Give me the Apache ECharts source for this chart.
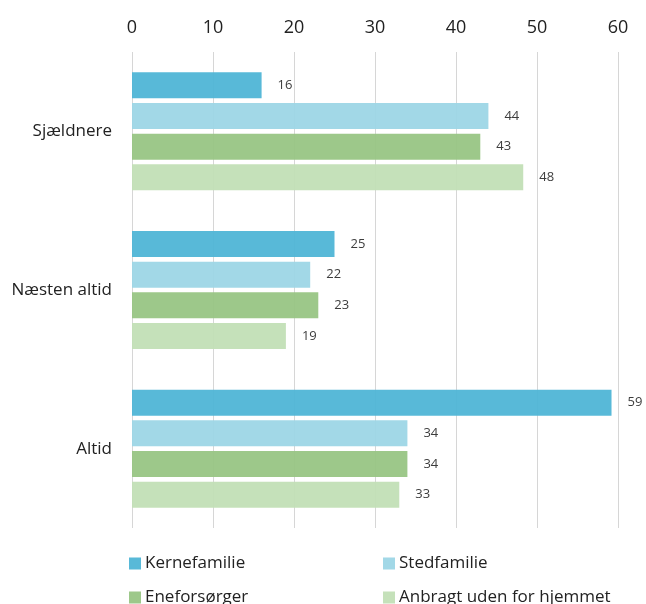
<!DOCTYPE html>
<html><head><meta charset="utf-8">
<script src="https://cdn.jsdelivr.net/npm/echarts@6/dist/echarts.min.js"></script>
<style>html,body{margin:0;padding:0;background:#fff}#c{width:646px;height:604px}</style>
</head><body><div id="c"></div>
<script>
const categories = ['Sjældnere', 'Næsten altid', 'Altid'];
const seriesNames = ['Kernefamilie', 'Stedfamilie', 'Eneforsørger', 'Anbragt uden for hjemmet'];
const kernefamilie = [16, 25, 59.2];
const stedfamilie = [44, 22, 34];
const eneforsorger = [43, 23, 34];
const anbragt = [48.3, 19, 33];
const xTicks = [0, 10, 20, 30, 40, 50, 60];
const colors = ['#4fb5d6', '#9dd6e6', '#98c584', '#c2dfb6'];
const values = [kernefamilie, stedfamilie, eneforsorger, anbragt];
const font = 'Open Sans';

const legendPos = [[129, 555], [383, 555], [129, 589], [383, 589]];

const chart = echarts.init(document.getElementById('c'));
chart.setOption({
  animation: false,
  textStyle: {fontFamily: font},
  grid: {left: 132, right: 28, top: 52, bottom: 76},
  xAxis: {
    type: 'value', position: 'top', min: xTicks[0], max: xTicks[xTicks.length-1], interval: 10,
    axisLine: {show: false}, axisTick: {show: false},
    axisLabel: {fontSize: 18, color: '#222', margin: 15, fontFamily: font},
    splitLine: {lineStyle: {color: '#d6d6d6', width: 1}}
  },
  yAxis: {
    type: 'category', data: categories, inverse: true,
    axisLine: {show: false}, axisTick: {show: false},
    axisLabel: {fontSize: 17, color: '#222', margin: 20, fontFamily: font}
  },
  legend: seriesNames.map((n, i) => ({
    left: legendPos[i][0], top: legendPos[i][1], padding: 0,
    itemWidth: 12, itemHeight: 12, itemGap: 0, icon: 'rect',
    data: [n], textStyle: {fontSize: 17, color: '#222', fontFamily: font, padding: [0, 0, 0, -1]}
  })),
  series: seriesNames.map((n, i) => ({
    name: n, type: 'bar', data: values[i], barWidth: 26, barGap: '18%',
    itemStyle: {color: colors[i], opacity: 0.95},
    label: {show: true, position: 'right', distance: 16, fontSize: 13, color: '#333', fontFamily: font,
      formatter: p => Math.round(p.value)}
  }))
});
</script></body></html>
